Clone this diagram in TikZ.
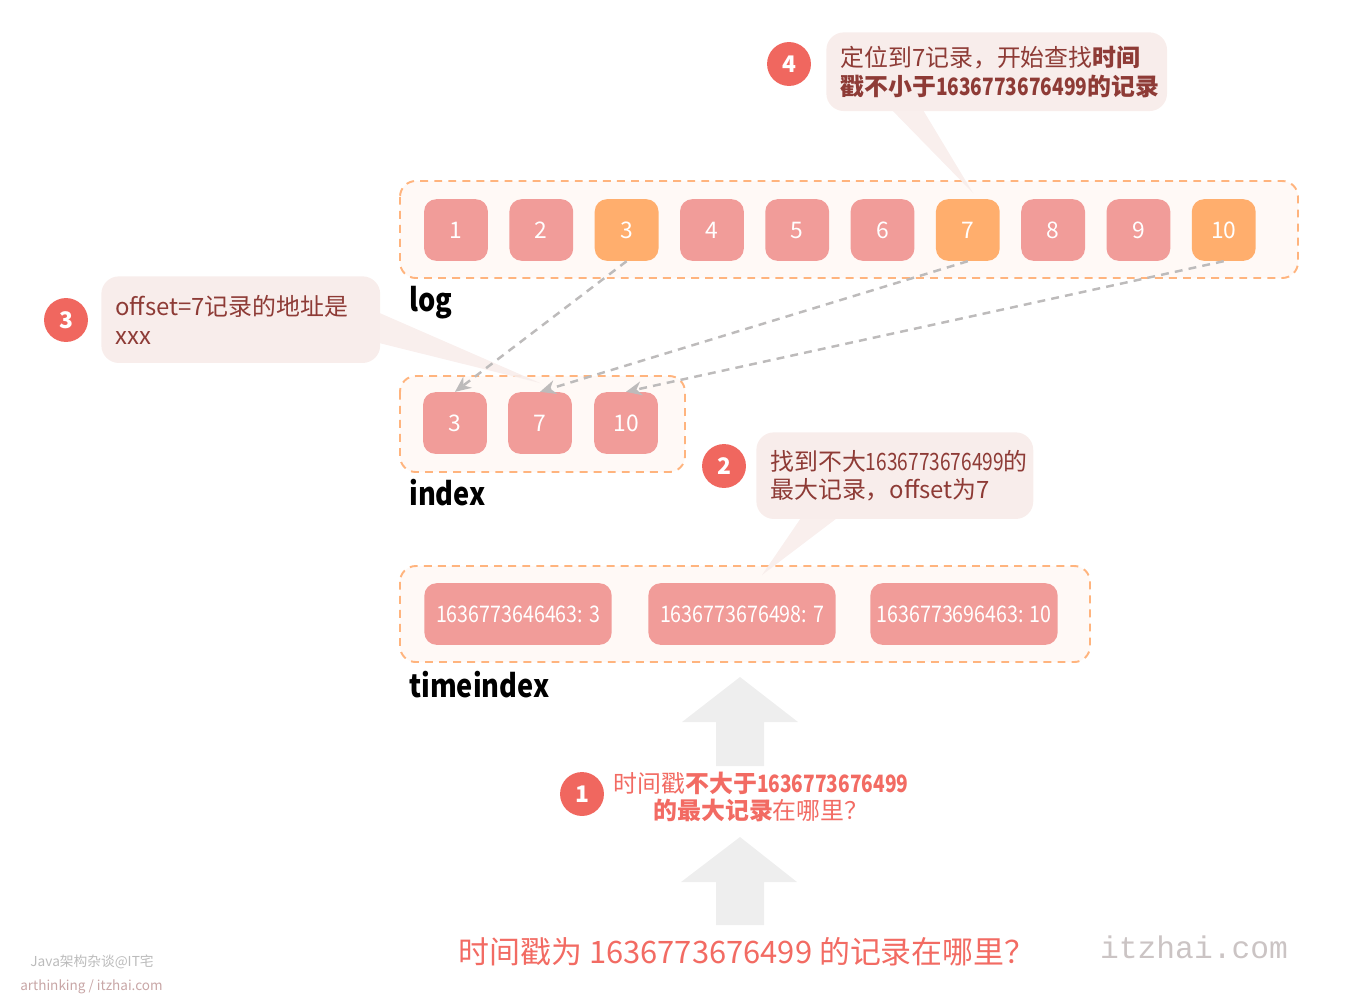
\documentclass[tikz,border=0pt]{standalone}
\usepackage{fontspec}
\setmainfont{Noto Sans CJK SC}
\newfontfamily\tightdigits[FakeStretch=0.8]{Noto Sans CJK SC}
\newfontfamily\tightlatin[FakeStretch=0.86]{Noto Sans CJK SC}
\newfontfamily\domainfont{Liberation Mono}
\newcommand\stamp[1]{{\tightdigits #1}}
\usetikzlibrary{arrows.meta,positioning}

\definecolor{boxpink}{HTML}{F19C99}
\definecolor{boxorange}{HTML}{FFAE6D}
\definecolor{groupfill}{HTML}{FFF9F6}
\definecolor{groupline}{HTML}{FFB47E}
\definecolor{tipfill}{HTML}{F8EDEB}
\definecolor{tiptext}{HTML}{8E3B36}
\definecolor{badgered}{HTML}{F0675F}
\definecolor{hilite}{HTML}{F26B63}
\definecolor{linkgray}{HTML}{BDBBBB}
\definecolor{upgray}{HTML}{EEEEEE}
\definecolor{wmgray}{HTML}{BBBBBB}
\definecolor{wmpink}{HTML}{C8A6A6}
\definecolor{domaingray}{HTML}{CBC4C4}

\tikzset{
  cell/.style={fill=boxpink, rounded corners=7pt, minimum width=36.3pt, minimum height=35.1pt,
    inner sep=0pt, text=white, font=\fontsize{13}{15}\selectfont},
  hot/.style={cell, fill=boxorange},
  tcell/.style={cell, minimum width=106.6pt, font=\tightlatin\fontsize{13}{15}\selectfont},
  group/.style={draw=groupline, dash pattern=on 4.5pt off 3.5pt, line width=1.1pt,
    fill=groupfill, rounded corners=9pt},
  grouplabel/.style={anchor=base west, inner sep=0pt, font=\tightlatin\bfseries\fontsize{18}{20}\selectfont},
  tip/.style={fill=tipfill, rounded corners=10pt, align=left, text=tiptext, anchor=north west,
    inner xsep=8pt, inner ysep=0pt, font=\fontsize{13.6}{16.4}\selectfont},
  badge/.style={circle, fill=badgered, text=white, minimum size=25pt, inner sep=0pt,
    font=\bfseries\fontsize{13}{15}\selectfont},
  link/.style={draw=linkgray, dash pattern=on 4.5pt off 3.5pt, line width=1.4pt,
    -{Stealth[length=9pt,width=8pt,fill=linkgray]}},
}

\begin{document}
\begin{tikzpicture}[x=0.02cm, y=-0.02cm]
\useasboundingbox (0,0) rectangle (1354,998);

% Groups
\draw[group] (400,181) rectangle (1298,278);
\draw[group] (400,376) rectangle (685,472);
\draw[group] (400,566) rectangle (1090,662);

% log records
\foreach \i/\kind in {1/cell,2/cell,3/hot,4/cell,5/cell,6/cell,7/hot,8/cell,9/cell,10/hot}
  \node[\kind] (l\i) at ({456+85.3*(\i-1)},230) {\i};
\node[grouplabel] (loglabel) at (409,311) {log};

% index
\node[cell] (i3) at (455,423) {3};
\node[cell] (i7) at (540,423) {7};
\node[cell] (i10) at (626,423) {10};
\node[grouplabel] (idxlabel) at (409,505) {index};

% timeindex
\node[tcell] (t1) at (518,614) {1636773646463: 3};
\node[tcell] (t2) at (742,614) {1636773676498: 7};
\node[tcell] (t3) at (964,614) {1636773696463: 10};
\node[grouplabel] (tilabel) at (409,697) {timeindex};

% Callout tails
\fill[tipfill, fill opacity=0.9] (887,105) -- (973,193) -- (920,105) -- cycle;
\fill[tipfill, fill opacity=0.9] (375,311) -- (540,383) -- (375,342) -- cycle;
\fill[tipfill, fill opacity=0.9] (805,512) -- (762,575) -- (845,512) -- cycle;

% Callouts
\node[tip, text width=177.9pt, minimum height=44.8pt] (c4) at (826,32)
  {定位到7记录，开始查找\textbf{时间}\\\textbf{戳不小于\stamp{1636773676499}的记录}};
\node[badge] (b4) at (789,64) {4};

\node[tip, text width=142.7pt, minimum height=49.3pt] (c3) at (101,276)
  {offset=7记录的地址是\\xxx};
\node[badge] (b3) at (66,320) {3};

\node[tip, text width=141.6pt, minimum height=49.3pt] (c2) at (756,432)
  {找到不大\stamp{1636773676499}的\\最大记录，offset为7};
\node[badge] (b2) at (724,466) {2};

% Lookups
\draw[link] (l3.south) -- (i3.north);
\draw[link] (l7.south) -- (i7.north);
\draw[link] (l10.south) -- (i10.north);

% Big arrows
\fill[upgray] (716,766) -- (716,722) -- (682,722) -- (740,677) -- (798,722) -- (764,722) -- (764,766) -- cycle;
\fill[upgray] (716,925) -- (716,882) -- (681,882) -- (740,837) -- (797,882) -- (764,882) -- (764,925) -- cycle;

% Question
\node[badge] (b1) at (582,794) {1};
\node[align=center, text=hilite, font=\fontsize{13.6}{15.3}\selectfont] (q1) at (761,797)
  {时间戳\textbf{不大于\stamp{1636773676499}}\\\textbf{的最大记录}在哪里？};
\node[anchor=base, inner sep=0pt, text=hilite, font=\fontsize{17.6}{20}\selectfont] (query) at (747,963)
  {时间戳为 1636773676499 的记录在哪里？};

% Marks
\node[anchor=base, inner sep=0pt, text=domaingray, font=\domainfont\fontsize{17.8}{20}\selectfont] (site) at (1194,958) {itzhai.com};
\node[anchor=base west, inner sep=0pt, text=wmgray, font=\fontsize{7.8}{9}\selectfont] (wm1) at (30,966) {Java架构杂谈@IT宅};
\node[anchor=base west, inner sep=0pt, text=wmpink, font=\fontsize{7.7}{10}\selectfont] (wm2) at (20,990) {arthinking / itzhai.com};
\end{tikzpicture}
\end{document}
